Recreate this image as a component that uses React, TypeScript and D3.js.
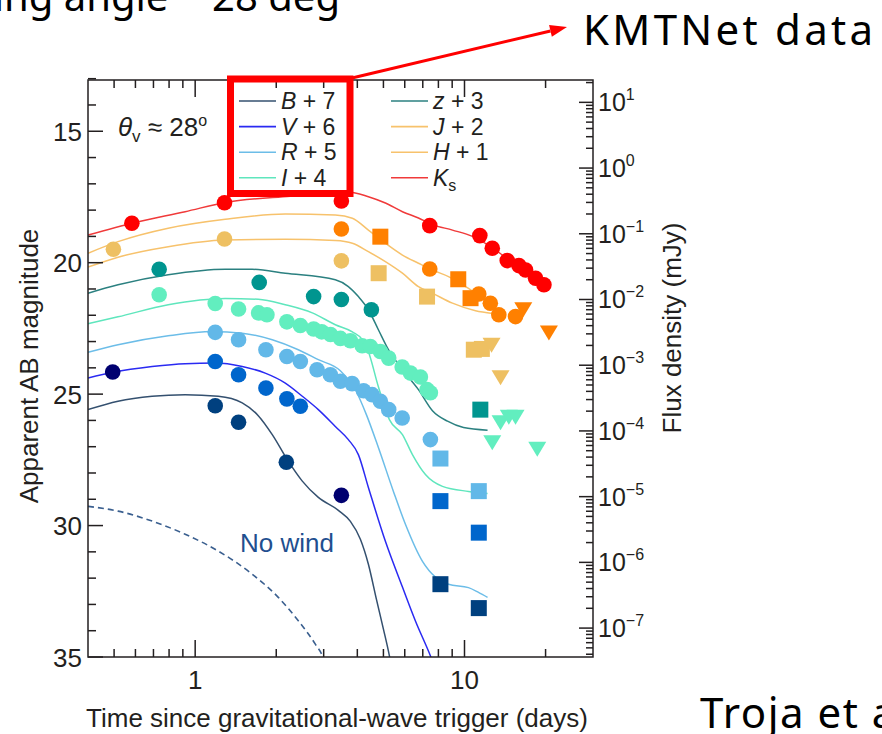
import React from "react";
import * as d3 from "d3";

type Pt = [number, number]; // [days since trigger, AB magnitude incl. offset]

// ---- Observed photometry ----
const ksDots: Pt[] = [[0.582, 18.5], [1.285, 17.72], [3.49, 17.65], [7.43, 18.59], [11.4, 18.97], [12.68, 19.45], [14.41, 19.92], [15.92, 20.11], [16.86, 20.28], [18.36, 20.59], [19.72, 20.84]];

const hDots: Pt[] = [[3.49, 18.72], [7.43, 20.24], [11.3, 21.19], [12.47, 21.54], [13.41, 21.98], [15.47, 22.05]];
const hSquares: Pt[] = [[4.87, 19.01], [9.48, 20.63], [10.53, 21.35]];
const hLimits: Pt[] = [[16.53, 21.73], [20.58, 22.62]];

const jDots: Pt[] = [[0.497, 19.49], [1.285, 19.1], [3.49, 19.93]];
const jSquares: Pt[] = [[4.8, 20.4], [7.26, 21.29], [10.83, 23.31], [11.6, 23.28]];
const jLimits: Pt[] = [[12.6, 23.08], [13.61, 24.32]];

const zDots: Pt[] = [[0.735, 20.25], [1.729, 20.75], [2.753, 21.29], [3.49, 21.4], [4.51, 21.79]];
const zSquares: Pt[] = [[11.45, 25.59]];

const iDots: Pt[] = [[0.735, 21.22], [1.187, 21.55], [1.449, 21.76], [1.72, 21.91], [1.847, 21.98], [2.19, 22.25], [2.457, 22.39], [2.753, 22.52], [2.95, 22.63], [3.18, 22.73], [3.46, 22.88], [3.77, 22.97], [4.17, 23.16], [4.47, 23.19], [4.87, 23.38], [5.23, 23.63], [5.87, 23.97], [6.3, 24.2], [6.86, 24.35], [7.26, 24.83], [7.47, 24.95]];
const iLimits: Pt[] = [[12.68, 26.79], [13.61, 26.03], [14.61, 25.82], [15.47, 25.82], [18.63, 27.04]];

const rDots: Pt[] = [[1.187, 22.65], [1.449, 22.93], [1.831, 23.31], [2.19, 23.57], [2.457, 23.76], [2.835, 24.07], [3.176, 24.26], [3.46, 24.51], [3.825, 24.6], [4.22, 24.87], [4.54, 25.02], [4.87, 25.27], [5.23, 25.59], [5.87, 25.91], [7.47, 26.73]];
const rSquares: Pt[] = [[8.14, 27.45], [11.3, 28.69]];

const vDots: Pt[] = [[1.187, 23.76], [1.449, 24.26], [1.831, 24.77], [2.19, 25.18], [2.457, 25.46]];
const vSquares: Pt[] = [[8.14, 29.07], [11.3, 30.27]];

const bDots: Pt[] = [[1.187, 25.44], [1.449, 26.07], [2.18, 27.59]];
const bSquares: Pt[] = [[8.14, 32.23], [11.3, 33.14]];

const navyDots: Pt[] = [[0.494, 24.16], [3.49, 28.85]];

// ---- Model light curves (theta_v ~ 28 deg) ----
const ksModel: Pt[] = [[0.4, 18.95], [0.598, 18.47], [0.918, 18.06], [1.293, 17.71], [2.255, 17.47], [3.705, 17.31], [4.397, 17.49], [5.085, 17.73], [5.883, 18.06], [6.745, 18.3], [7.603, 18.55], [9.023, 18.76], [10.71, 19.0], [12.71, 19.44], [14.58, 19.88], [16.43, 20.2], [18.36, 20.52], [20.0, 20.84]];
const hModel: Pt[] = [[0.4, 19.64], [0.517, 19.2], [0.794, 18.69], [1.293, 18.35], [2.161, 18.15], [3.314, 18.19], [3.834, 18.31], [4.397, 18.76], [5.085, 19.26], [5.883, 19.71], [6.745, 20.02], [7.603, 20.28], [8.72, 20.53], [10.09, 20.91], [11.27, 21.22], [12.71, 21.53]];
const jModel: Pt[] = [[0.4, 20.17], [0.517, 19.79], [0.794, 19.39], [1.293, 19.14], [2.161, 19.11], [3.314, 19.16], [3.834, 19.26], [4.397, 19.58], [5.085, 19.96], [5.883, 20.4], [6.745, 20.91], [7.603, 21.16], [9.023, 21.54], [10.99, 21.83], [12.71, 21.93]];
const zModel: Pt[] = [[0.4, 21.16], [0.517, 20.84], [0.794, 20.46], [1.293, 20.25], [1.629, 20.25], [2.161, 20.4], [3.314, 20.65], [3.705, 20.91], [4.036, 21.29], [4.397, 21.79], [4.789, 22.55], [5.219, 23.31], [5.883, 24.07], [6.745, 24.83], [7.603, 25.63], [8.648, 26.03], [9.914, 26.27], [12.18, 26.37]];
const iModel: Pt[] = [[0.4, 22.32], [0.517, 22.06], [0.794, 21.6], [1.293, 21.36], [1.715, 21.39], [2.161, 21.6], [2.722, 21.91], [3.314, 22.36], [3.834, 22.63], [4.176, 22.93], [4.397, 23.39], [4.789, 24.72], [5.262, 25.97], [5.883, 26.54], [6.407, 27.3], [7.161, 28.06], [8.283, 28.51], [10.35, 28.7], [12.18, 28.78]];
const rModel: Pt[] = [[0.4, 23.41], [0.517, 23.12], [0.794, 22.78], [1.157, 22.62], [1.495, 22.68], [1.933, 22.93], [2.415, 23.31], [2.866, 23.69], [3.459, 24.11], [3.967, 24.91], [4.322, 25.78], [4.789, 27.03], [5.446, 28.7], [6.035, 29.95], [6.982, 31.36], [7.802, 31.96], [8.72, 32.23], [10.35, 32.36], [11.27, 32.54], [12.18, 32.73]];
const vModel: Pt[] = [[0.4, 24.39], [0.4956, 24.17], [0.692, 23.95], [0.918, 23.84], [1.187, 23.82], [1.495, 23.95], [1.82, 24.2], [2.161, 24.58], [2.499, 25.08], [2.866, 25.59], [3.314, 26.23], [3.705, 26.73], [4.036, 27.3], [4.397, 28.55], [5.085, 30.6], [5.883, 32.34], [6.574, 33.63], [7.475, 34.96], [7.9, 35.6]];
const bModel: Pt[] = [[0.4, 25.59], [0.517, 25.27], [0.692, 25.08], [0.918, 25.02], [1.218, 25.08], [1.495, 25.33], [1.715, 25.82], [1.933, 26.54], [2.216, 27.55], [2.499, 28.31], [2.866, 28.93], [3.401, 29.42], [3.77, 29.84], [4.106, 30.52], [4.397, 31.47], [4.708, 32.8], [5.0, 33.94], [5.262, 34.96], [5.4, 35.6]];
const noWindModel: Pt[] = [[0.4, 29.27], [0.517, 29.45], [0.692, 29.83], [0.918, 30.33], [1.218, 30.97], [1.629, 31.85], [2.035, 32.73], [2.415, 33.62], [2.793, 34.51], [2.966, 34.95], [3.05, 35.3]];

// ---- Axis ticks ----
const magLabels = [15, 20, 25, 30, 35];
const timeLabels = [1, 10];
const timeMinor = [0.5, 0.6, 0.7, 0.8, 0.9, 2, 3, 4, 5, 6, 7, 8, 9, 20];
const fluxExponents = [1, 0, -1, -2, -3, -4, -5, -6, -7];

// AB magnitude of a flux density given in mJy
const magOfFlux = (f: number) => 16.4 - 2.5 * Math.log10(f);

type Band = {
  key: string; letter: string; sub?: string; offset?: string;
  line: string; mark: string; model: Pt[];
  dots: Pt[]; squares: Pt[]; limits: Pt[];
};

const bands: Band[] = [
  { key: "B", letter: "B", offset: " + 7", line: "#34506f", mark: "#00407f", model: bModel, dots: bDots, squares: bSquares, limits: [] },
  { key: "V", letter: "V", offset: " + 6", line: "#2a2af2", mark: "#0066cc", model: vModel, dots: vDots, squares: vSquares, limits: [] },
  { key: "R", letter: "R", offset: " + 5", line: "#6cbde8", mark: "#62b8e8", model: rModel, dots: rDots, squares: rSquares, limits: [] },
  { key: "I", letter: "I", offset: " + 4", line: "#5fe6bd", mark: "#62eebf", model: iModel, dots: iDots, squares: [], limits: iLimits },
  { key: "z", letter: "z", offset: " + 3", line: "#2b8080", mark: "#00958f", model: zModel, dots: zDots, squares: zSquares, limits: [] },
  { key: "J", letter: "J", offset: " + 2", line: "#f7c26c", mark: "#eec062", model: jModel, dots: jDots, squares: jSquares, limits: jLimits },
  { key: "H", letter: "H", offset: " + 1", line: "#f7c26c", mark: "#ff8000", model: hModel, dots: hDots, squares: hSquares, limits: hLimits },
  { key: "Ks", letter: "K", sub: "s", line: "#f03a3a", mark: "#ff0000", model: ksModel, dots: ksDots, squares: [], limits: [] },
];

const legendLeft = ["B", "V", "R", "I"];
const legendRight = ["z", "J", "H", "Ks"];

const W = 882;
const H = 734;
const frame = { left: 88, right: 593, top: 80, bottom: 657 };
const ink = "#231f20";
const axisFont = "'Liberation Sans', Arial, Helvetica, sans-serif";

export default function App() {
  const x = d3.scaleLog().domain([0.4, 30]).range([frame.left, frame.right]);
  const y = d3.scaleLinear().domain([35, 13.05]).range([frame.bottom, frame.top]);
  const line = d3
    .line<Pt>()
    .x((d) => x(d[0]))
    .y((d) => y(d[1]))
    .curve(d3.curveMonotoneX);

  const magTicks = d3.range(13, 36);
  const fluxTicks: { y: number; major: boolean }[] = [];
  for (let k = -8; k <= 1; k++) {
    for (let m = 1; m <= 9; m++) {
      const mag = magOfFlux(m * Math.pow(10, k));
      if (mag >= 13.05 && mag <= 35) fluxTicks.push({ y: y(mag), major: m === 1 });
    }
  }

  const byKey = (k: string) => bands.find((b) => b.key === k)!;
  const r = 7.8;
  const sq = 16;

  const legendRow = (key: string, i: number, x0: number) => {
    const b = byKey(key);
    const yy = 101 + i * 25.6;
    return (
      <g key={key}>
        <line x1={x0} x2={x0 + 37} y1={yy} y2={yy} stroke={b.line} strokeWidth={1.6} />
        <text x={x0 + 42} y={yy + 8} fontSize={23} fill={ink}>
          <tspan fontStyle="italic">{b.letter}</tspan>
          {b.sub ? (
            <tspan fontSize={16} dy={5}>{b.sub}</tspan>
          ) : (
            <tspan>{b.offset}</tspan>
          )}
        </text>
      </g>
    );
  };

  // arrow from the legend box towards the KMTNet note
  const a0: Pt = [352, 78];
  const tip: Pt = [567, 27];
  const len = Math.hypot(tip[0] - a0[0], tip[1] - a0[1]);
  const ux = (tip[0] - a0[0]) / len;
  const uy = (tip[1] - a0[1]) / len;
  const bx = tip[0] - 17 * ux;
  const by = tip[1] - 17 * uy;
  const head = `M${tip[0]},${tip[1]} L${bx - 6 * uy},${by + 6 * ux} L${bx + 6 * uy},${by - 6 * ux} Z`;

  return (
    <svg
      width={W}
      height={H}
      viewBox={`0 0 ${W} ${H}`}
      style={{ position: "absolute", left: 0, top: 0, display: "block", background: "#fff" }}
      fontFamily={axisFont}
    >
      <rect x={0} y={0} width={W} height={H} fill="#fff" />
      <defs>
        <clipPath id="plotArea">
          <rect x={frame.left} y={frame.top} width={frame.right - frame.left} height={frame.bottom - frame.top} />
        </clipPath>
      </defs>

      {/* model curves */}
      <g clipPath="url(#plotArea)" fill="none">
        {bands.map((b) => (
          <path key={b.key} d={line(b.model) || ""} stroke={b.line} strokeWidth={1.5} />
        ))}
        <path d={line(noWindModel) || ""} stroke="#3a5f8f" strokeWidth={1.6} strokeDasharray="6 4" />
      </g>

      {/* photometry */}
      <g clipPath="url(#plotArea)">
        {bands.map((b) => (
          <g key={b.key} fill={b.mark}>
            {b.dots.map((d, i) => (
              <circle key={"c" + i} cx={x(d[0])} cy={y(d[1])} r={r} />
            ))}
            {b.squares.map((d, i) => (
              <rect key={"s" + i} x={x(d[0]) - sq / 2} y={y(d[1]) - sq / 2} width={sq} height={sq} />
            ))}
            {b.limits.map((d, i) => {
              const cx = x(d[0]);
              const cy = y(d[1]);
              return <path key={"t" + i} d={`M${cx - 9},${cy - 6} L${cx + 9},${cy - 6} L${cx},${cy + 9} Z`} />;
            })}
          </g>
        ))}
        {navyDots.map((d, i) => (
          <circle key={"n" + i} cx={x(d[0])} cy={y(d[1])} r={r} fill="#000070" />
        ))}
      </g>

      {/* frame and ticks */}
      <g stroke={ink} strokeWidth={1.5}>
        <rect x={frame.left} y={frame.top} width={frame.right - frame.left} height={frame.bottom - frame.top} fill="none" />
        {magTicks.map((m) => {
          const len = m % 5 === 0 ? 15 : 8;
          return <line key={"l" + m} x1={frame.left} x2={frame.left + len} y1={y(m)} y2={y(m)} />;
        })}
        {fluxTicks.map((t, i) => (
          <line key={"f" + i} x1={frame.right} x2={frame.right - (t.major ? 14 : 7)} y1={t.y} y2={t.y} />
        ))}
        {timeLabels.map((t) => (
          <g key={"M" + t}>
            <line x1={x(t)} x2={x(t)} y1={frame.bottom} y2={frame.bottom - 17} />
            <line x1={x(t)} x2={x(t)} y1={frame.top} y2={frame.top + 17} />
          </g>
        ))}
        {timeMinor.map((t) => (
          <g key={"m" + t}>
            <line x1={x(t)} x2={x(t)} y1={frame.bottom} y2={frame.bottom - 8} />
            <line x1={x(t)} x2={x(t)} y1={frame.top} y2={frame.top + 8} />
          </g>
        ))}
      </g>

      {/* tick labels */}
      <g fill={ink} fontSize={26}>
        {magLabels.map((m) => (
          <text key={m} x={82} y={y(m) + 9.5} textAnchor="end">{m}</text>
        ))}
        {timeLabels.map((t) => (
          <text key={t} x={x(t)} y={689} textAnchor="middle">{t}</text>
        ))}
        {fluxExponents.map((e) => (
          <text key={e} x={598} y={y(magOfFlux(Math.pow(10, e))) + 9} fontSize={25}>
            10
            <tspan fontSize={16} dy={-11}>{e < 0 ? "\u2212" + Math.abs(e) : String(e)}</tspan>
          </text>
        ))}
      </g>

      {/* axis titles */}
      <g fill={ink} fontSize={26}>
        <text x={337} y={727} textAnchor="middle">Time since gravitational-wave trigger (days)</text>
        <text transform="translate(38,366) rotate(-90)" textAnchor="middle">Apparent AB magnitude</text>
        <text transform="translate(681,328) rotate(-90)" textAnchor="middle" fontSize={26}>Flux density (mJy)</text>
      </g>

      {/* annotations */}
      <text x={118} y={136} fontSize={26} fill={ink}>
        <tspan fontStyle="italic">θ</tspan>
        <tspan fontSize={17} dy={6}>v</tspan>
        <tspan dy={-6}> ≈ 28</tspan>
        <tspan fontSize={16} dy={-10}>o</tspan>
      </text>
      <text x={240} y={552} fontSize={26} fill="#1f4f8f">No wind</text>

      {/* legend */}
      {legendLeft.map((k, i) => legendRow(k, i, 239))}
      {legendRight.map((k, i) => legendRow(k, i, 391))}

      {/* slide callouts */}
      <rect x={230.5} y={79} width={119.5} height={114.5} fill="none" stroke="#ff0000" strokeWidth={7} />
      <line x1={a0[0]} y1={a0[1]} x2={bx} y2={by} stroke="#ff0000" strokeWidth={3} />
      <path d={head} fill="#ff0000" />
      <g fontFamily="'Noto Sans', 'Open Sans', sans-serif" fill="#000">
        <text x={583} y={45} fontSize={42} textLength={290} lengthAdjust="spacing">KMTNet data</text>
        <text x={700} y={728} fontSize={42} letterSpacing={1.5}>Troja et al.</text>
        <text x={340} y={11} fontSize={40} textAnchor="end">Viewing angle ~ 28 deg</text>
      </g>
    </svg>
  );
}
